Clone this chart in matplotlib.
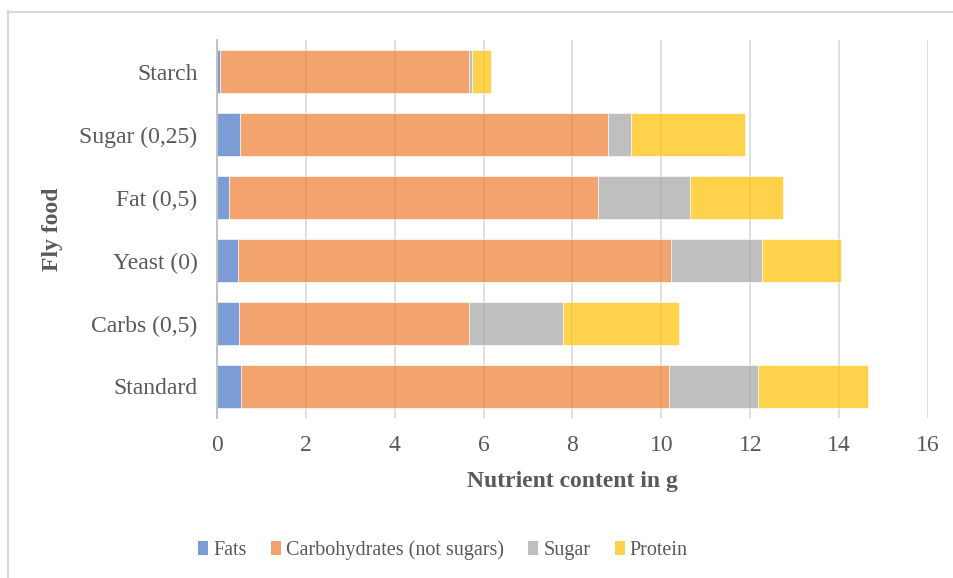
import matplotlib
matplotlib.use("Agg")
import matplotlib.pyplot as plt
from matplotlib.lines import Line2D
from matplotlib.patches import Patch
import numpy as np

# Nutrient content per fly food (g), stacked per food
foods = ["Standard", "Carbs (0,5)", "Yeast (0)", "Fat (0,5)", "Sugar (0,25)", "Starch"]
fats = [0.53, 0.50, 0.48, 0.27, 0.51, 0.06]
carbohydrates = [9.64, 5.16, 9.74, 8.30, 8.28, 5.61]
sugar = [2.01, 2.13, 2.04, 2.07, 0.53, 0.07]
protein = [2.48, 2.61, 1.79, 2.10, 2.56, 0.43]

series_names = ["Fats", "Carbohydrates (not sugars)", "Sugar", "Protein"]
series_values = [fats, carbohydrates, sugar, protein]
colors = ["#4472C4", "#ED7D31", "#A5A5A5", "#FFC000"]
x_ticks = [0, 2, 4, 6, 8, 10, 12, 14, 16]

W, H = 954, 578
fig = plt.figure(figsize=(W / 100, H / 100), dpi=100)
plt.rcParams["font.family"] = ["Liberation Serif", "DejaVu Serif"]

ax = fig.add_axes([217 / W, 1 - 418 / H, (928 - 217) / W, (418 - 40) / H])

y = np.arange(len(foods))
left = np.zeros(len(foods))
for name, vals, col in zip(series_names, series_values, colors):
    vals = np.array(vals)
    ax.barh(y, vals, left=left, height=0.667, color=col, alpha=0.7,
            edgecolor="white", linewidth=0.6, label=name, zorder=2)
    left += vals

ax.set_ylim(-0.5, len(foods) - 0.5)
ax.set_xlim(0, 16)
ax.set_xticks(x_ticks)
ax.set_xticklabels([str(t) for t in x_ticks])
ax.set_yticks(y)
ax.set_yticklabels(foods)

text_color = "#595959"
ax.tick_params(axis="both", length=0, labelsize=17, colors=text_color)
ax.tick_params(axis="y", pad=14)
ax.tick_params(axis="x", pad=12)

ax.grid(axis="x", color="#D9D9D9", linewidth=1.2, zorder=1)
ax.set_axisbelow(True)
for s in ["top", "right", "bottom"]:
    ax.spines[s].set_visible(False)
ax.spines["left"].set_color("#BFBFBF")
ax.spines["left"].set_linewidth(1.3)
ax.spines["left"].set_zorder(3)

fig.text(572 / W, 1 - 481 / H, "Nutrient content in g", ha="center", va="center",
         fontsize=17, fontweight="bold", color=text_color)
fig.text(53 / W, 1 - 229 / H, "Fly food", ha="center", va="center", rotation=90,
         fontsize=17, fontweight="bold", color=text_color)

handles = [Patch(facecolor=c, alpha=0.7, edgecolor="none") for c in colors]
fig.legend(handles, series_names, loc="center", bbox_to_anchor=(443 / W, 1 - 550 / H),
           ncol=4, frameon=False, fontsize=14.5, handlelength=0.5, handleheight=0.7,
           handletextpad=0.25, columnspacing=1.2, labelcolor=text_color)

# Chart area border
fig.add_artist(Line2D([8.5 / W, 8.5 / W], [0, 1 - 11 / H], color="#D9D9D9", linewidth=1.5))
fig.add_artist(Line2D([8 / W, 1], [1 - 11.5 / H, 1 - 11.5 / H], color="#D9D9D9", linewidth=1.5))

fig.savefig("out.png", dpi=100)
